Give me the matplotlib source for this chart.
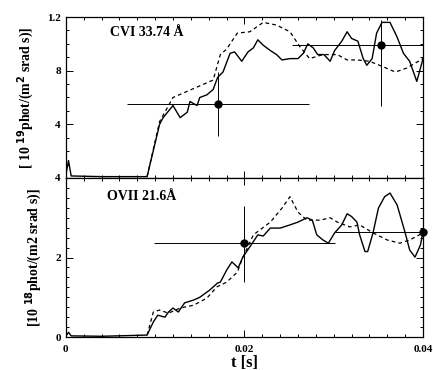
import matplotlib
matplotlib.use("Agg")
from matplotlib import pyplot as plt
from matplotlib.ticker import MultipleLocator, FixedLocator

plt.rcParams['font.family'] = ['Liberation Serif', 'DejaVu Serif']
plt.rcParams['font.weight'] = 'bold'

# CVI 33.74 A (haut) : mesure (trait plein) et simulation (pointilles)
t_cvi = [0.0, 0.0003, 0.0006, 0.004, 0.0091, 0.0105, 0.0109, 0.012, 0.0128, 0.0136,
         0.0139, 0.0147, 0.015, 0.0158, 0.0165, 0.017, 0.0176, 0.0184, 0.0189, 0.0197,
         0.0204, 0.021, 0.0215, 0.0221, 0.0229, 0.0236, 0.0242, 0.0251, 0.026, 0.0266,
         0.0271, 0.0277, 0.0282, 0.0289, 0.0296, 0.0301, 0.0309, 0.0315, 0.032, 0.0327,
         0.0333, 0.0337, 0.0343, 0.0348, 0.0354, 0.0363, 0.0371, 0.0378, 0.0385, 0.0393, 0.04]
v_cvi = [0.2, 1.3, 0.15, 0.1, 0.1, 4.0, 4.5, 5.4, 4.5, 4.9,
         5.7, 5.4, 6.0, 6.2, 6.6, 7.5, 7.9, 9.3, 9.4, 8.7,
         9.4, 9.7, 10.3, 9.9, 9.5, 9.2, 8.8, 8.9, 8.9, 9.3,
         10.0, 9.7, 9.2, 9.2, 8.7, 9.5, 10.2, 10.9, 10.4, 10.2,
         8.9, 8.4, 8.9, 10.8, 11.6, 11.6, 10.5, 9.3, 8.7, 7.2, 8.9]
t_cvi_sim = [0.0091, 0.0105, 0.012, 0.0165, 0.0173, 0.018, 0.0192, 0.0206, 0.0221, 0.0236,
             0.0251, 0.0262, 0.0273, 0.0288, 0.0304, 0.0315, 0.0326, 0.034, 0.0355, 0.0369,
             0.0382, 0.04]
v_cvi_sim = [0.1, 4.2, 6.0, 7.3, 9.2, 9.6, 10.8, 10.9, 11.6, 11.4,
             10.9, 9.8, 8.9, 9.2, 9.2, 8.8, 8.8, 8.7, 8.3, 7.9,
             8.2, 8.9]
# points experimentaux avec barres d'erreur
t_cvi_pts = [0.017, 0.0353]
v_cvi_pts = [5.5, 9.9]
xerr_cvi = [[0.0101, 0.0100], [0.0102, 0.0047]]
yerr_cvi = [[2.4, 4.5], [2.4, 1.9]]

# OVII 21.6 A (bas)
t_ovii = [0.0, 0.0003, 0.0006, 0.004, 0.0091, 0.0098, 0.0103, 0.0111, 0.0115, 0.012,
          0.0126, 0.0133, 0.0143, 0.015, 0.0161, 0.017, 0.0173, 0.018, 0.0186, 0.0193,
          0.0198, 0.021, 0.0215, 0.0221, 0.0229, 0.024, 0.0251, 0.026, 0.027, 0.0276,
          0.0281, 0.0288, 0.0294, 0.0301, 0.0309, 0.0315, 0.032, 0.0326, 0.0329, 0.0335,
          0.0338, 0.0344, 0.035, 0.0357, 0.0363, 0.0371, 0.038, 0.0385, 0.0391, 0.0397, 0.04]
v_ovii = [0.02, 0.12, 0.03, 0.02, 0.05, 0.38, 0.55, 0.5, 0.63, 0.73,
          0.63, 0.86, 0.93, 1.0, 1.18, 1.36, 1.38, 1.68, 1.89, 1.74,
          2.0, 2.4, 2.57, 2.54, 2.74, 2.74, 2.82, 2.89, 3.0, 2.94,
          2.57, 2.44, 2.36, 2.62, 2.82, 3.1, 3.03, 2.89, 2.57, 2.15,
          2.15, 2.62, 3.24, 3.53, 3.62, 3.32, 2.62, 2.19, 2.01, 2.31, 2.64]
t_ovii_sim = [0.0091, 0.0098, 0.0105, 0.0115, 0.0128, 0.0143, 0.0158, 0.0169, 0.018, 0.0192,
              0.0198, 0.021, 0.0229, 0.0242, 0.0251, 0.026, 0.027, 0.0285, 0.0296, 0.0304,
              0.0318, 0.0329, 0.0344, 0.036, 0.0374, 0.0385, 0.04]
v_ovii_sim = [0.05, 0.63, 0.68, 0.6, 0.73, 0.8, 0.98, 1.26, 1.38, 1.63,
              1.99, 2.57, 2.89, 3.24, 3.53, 3.14, 2.94, 2.94, 3.0, 2.89,
              2.77, 2.82, 2.62, 2.44, 2.36, 2.44, 2.62]
t_ovii_pts = [0.0199, 0.04]
v_ovii_pts = [2.36, 2.64]
xerr_ovii = [[0.0100, 0.0099], [0.0102, 0.0]]
yerr_ovii = [[0.98, 0.0], [0.94, 0.0]]

fig = plt.figure(figsize=(4.33, 3.7), dpi=100)
ax1 = fig.add_axes([0.152, 0.519, 0.825, 0.435])
ax2 = fig.add_axes([0.152, 0.089, 0.825, 0.43])

ax1.plot(t_cvi, v_cvi, color='black', lw=1.0)
ax1.plot(t_cvi_sim, v_cvi_sim, color='black', lw=0.9, ls=(0, (3, 2.5)))
ax1.errorbar(t_cvi_pts, v_cvi_pts, xerr=xerr_cvi, yerr=yerr_cvi, fmt='o', color='black',
             ms=5, elinewidth=0.7, capsize=0)
ax1.set_ylim(0, 12)
ax1.set_yticks([4, 8, 12])
ax1.set_yticklabels(['4', '8', '1.2'])
ax1.text(0.005, 10.6, 'CVI 33.74 Å', fontsize=10, fontweight='bold')
ax1.set_ylabel('[ 10 $^{19}$phot/(m$^2$ srad s)]', fontsize=10, fontweight='bold', labelpad=8)

ax2.plot(t_ovii, v_ovii, color='black', lw=1.0)
ax2.plot(t_ovii_sim, v_ovii_sim, color='black', lw=0.9, ls=(0, (3, 2.5)))
ax2.errorbar(t_ovii_pts, v_ovii_pts, xerr=xerr_ovii, yerr=yerr_ovii, fmt='o', color='black',
             ms=5, elinewidth=0.7, capsize=0, clip_on=False)
ax2.set_ylim(0, 4)
ax2.set_yticks([0, 2, 4])
ax2.set_yticklabels(['0', '2', '4'])
ax2.text(0.0046, 3.45, 'OVII 21.6Å', fontsize=10, fontweight='bold')
ax2.set_ylabel('[10 $^{18}$phot/(m2 srad s)]', fontsize=10, fontweight='bold', labelpad=8)
ax2.set_xlabel('t [s]', fontsize=12, fontweight='bold')
ax2.xaxis.set_label_coords(0.5, -0.11)

for ax in (ax1, ax2):
    ax.set_xlim(0, 0.04)
    ax.xaxis.set_major_locator(FixedLocator([0.0, 0.02, 0.04]))
    ax.xaxis.set_minor_locator(MultipleLocator(0.002))
    ax.tick_params(which='both', direction='in', top=True, right=True, labelsize=8, width=0.7)
    ax.tick_params(which='major', length=5)
    ax.tick_params(which='minor', length=2.5)
    for s in ax.spines.values():
        s.set_linewidth(0.9)
ax1.yaxis.set_minor_locator(MultipleLocator(1))
ax2.yaxis.set_minor_locator(MultipleLocator(0.25))
ax2.tick_params(axis='x', pad=6)
ax1.tick_params(axis='x', labelbottom=False)
ax2.set_xticklabels(['0', '0.02', '0.04'])
for lab in ax1.get_yticklabels() + ax2.get_yticklabels() + ax2.get_xticklabels():
    lab.set_fontweight('bold')

fig.savefig('out.png', dpi=100)
